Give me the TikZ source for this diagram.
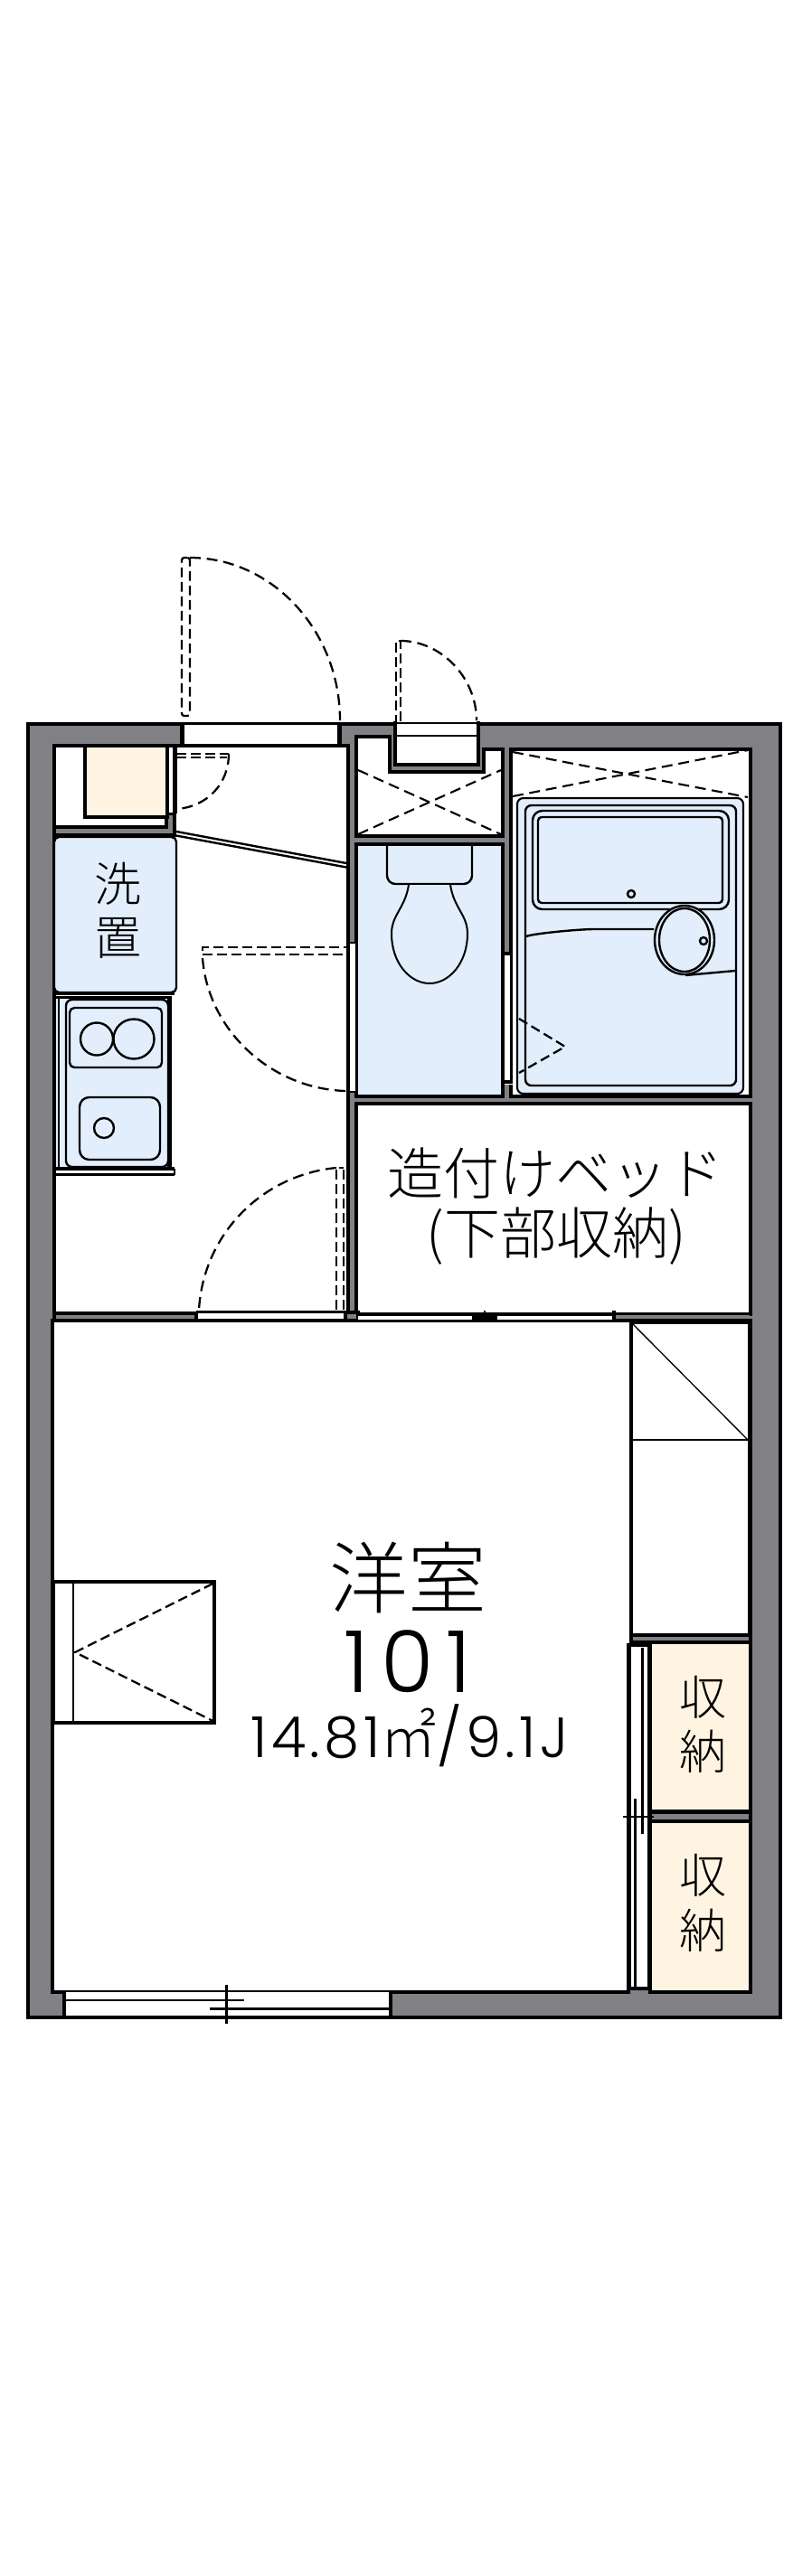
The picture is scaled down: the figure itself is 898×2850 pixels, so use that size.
\documentclass[tikz,border=0pt]{standalone}
\usepackage{fontspec}
\setmainfont{Poppins Light}
\newfontfamily\cjk{Noto Sans CJK JP Light}
\definecolor{wallgray}{HTML}{808085}
\definecolor{wetblue}{HTML}{E3EEFC}
\definecolor{storecream}{HTML}{FFF4E2}
\begin{document}
\begin{tikzpicture}[x=0.75pt,y=-0.75pt,line join=miter]
		\tikzset{wall/.style = {draw, line width=3pt, fill=wallgray},
			room/.style = {draw, line width=3pt, fill=white},
			wet/.style = {draw, line width=1.8pt, fill=wetblue},
			store/.style = {draw, line width=3pt, fill=storecream},
			gap/.style = {fill=white, draw=none},
			thin line/.style = {line width=1.8pt},
			thick line/.style = {line width=3.4pt},
			leaf/.style = {line width=1.7pt, dash pattern=on 9pt off 5pt},
			frame/.style = {line width=1.7pt, dash pattern=on 8pt off 4pt},
			label/.style = {inner sep=0pt, align=center, font=\cjk}}

		\useasboundingbox (0,0) rectangle (898,2850);
		\fill[white] (0,0) rectangle (898,2850);

		% walls and rooms
		\draw[wall] (30.5,800.5) rectangle (863,2232);
		\draw[room] (60,825) rectangle (385,1453);
		\draw[room] (57.5,1461) rectangle (829.5,2204);
		\draw[room] (394,1221) rectangle (829.5,1454);
		\draw[room] (565,829) rectangle (829.5,1213);
		\draw[room] (394,814.5) -- (431,814.5) -- (431,854) -- (534.5,854) -- (534.5,829) -- (556,829) -- (556,925) -- (394,925) -- cycle;
		\draw[wet, line width=3pt] (394,934) rectangle (556,1213);

		% closet by the entrance
		\draw[wall] (60,915) -- (184,915) -- (184,900) -- (193,900) -- (193,924) -- (60,924) -- cycle;
		\draw[store] (93.5,825) rectangle (184.5,903.5);
		\fill[white] (186.5,827) rectangle (191.5,899);
		\draw[thick line] (193.5,825) -- (193.5,900);

		% entrance door
		\fill[gap] (201.5,797) rectangle (375.5,823);
		\draw[thin line] (201.5,800.5) -- (375.5,800.5);
		\draw[line width=3.6pt] (201.5,799) -- (201.5,827);
		\draw[line width=3.6pt] (375.5,799) -- (375.5,827);
		\draw[frame, rounded corners=2pt] (210,617) -- (201,617) -- (201,792) -- (210,792) -- cycle;
		\draw[leaf] (210,617) .. controls (301,617) and (376,698) .. (376,797);

		% small door on the north side
		\draw[room] (437,798) -- (437,846) -- (528.5,846) -- (528.5,798);
		\draw[thin line] (437,800) -- (528.5,800);
		\draw[thin line] (437,814) -- (528.5,814);
		\draw[frame] (443,798) -- (443,709) -- (438,709) -- (438,798);
		\draw[leaf] (443,709) .. controls (488,709) and (527,750) .. (527,797);

		% dashed crosses
		\draw[leaf, line width=1.6pt] (396,852) -- (554,923);
		\draw[leaf, line width=1.6pt] (396,923) -- (554,852);
		\draw[leaf, line width=1.6pt] (567,832) -- (827,882);
		\draw[leaf, line width=1.6pt] (567,881) -- (827,830);

		% cupboard door and partition
		\draw[frame] (195,834) -- (253,834);
		\draw[frame] (195,838) -- (251,838);
		\draw[leaf] (253,834) .. controls (253,868) and (228,893) .. (195,895);
		\draw[thin line] (195,920) -- (383,955);
		\draw[thin line] (195,924.5) -- (383,959.5);

		% washer pan and kitchen
		\draw[wet, rounded corners=4pt] (60,926) -- (195,926) -- (195,1098) -- (60,1098) -- cycle;
		\fill[wetblue] (62,1105) rectangle (188,1292);
		\draw[thick line] (62,1099) -- (193,1099);
		\draw[thin line] (62,1103.5) -- (190,1103.5);
		\draw[thick line] (187.5,1104) -- (187.5,1294);
		\draw[thick line] (62,1293) -- (193,1293);
		\draw[thin line] (62,1299.5) -- (193,1299.5);
		\draw[thin line] (193,1293) -- (193,1300);
		\draw[thin line] (65,1105) -- (65,1292);
		\draw[wet, rounded corners=5pt] (73,1106) rectangle (186,1291);
		\draw[wet, rounded corners=4pt] (77,1115) rectangle (179,1181);
		\draw[wet] (107,1149.5) ellipse [x radius=18, y radius=18];
		\draw[wet] (148,1149.5) ellipse [x radius=22.5, y radius=22];
		\draw[wet, rounded corners=8pt] (88,1214) rectangle (177,1283);
		\draw[wet] (115,1248) circle [radius=11];

		% toilet
		\draw[wet, rounded corners=7pt] (428,936) -- (428,978) -- (522,978) -- (522,936);
		\draw[wet, line width=1.5pt] (452,979) .. controls (448,1005) and (433,1012) .. (433,1033) .. controls (433,1065) and (453,1088) .. (475,1088) .. controls (497,1088) and (517,1065) .. (517,1033) .. controls (517,1012) and (502,1005) .. (498,979);

		% bath unit
		\draw[wet, line width=1.6pt, rounded corners=5pt] (572,883) rectangle (822,1210);
		\draw[wet, rounded corners=5pt] (581,891) rectangle (814,1201);
		\draw[wet, rounded corners=8pt] (589,897) rectangle (806,1006);
		\draw[wet, rounded corners=3pt] (595,904) rectangle (799,999);
		\draw[wet] (698,989) circle [radius=4];
		\draw[thin line] (582,1036) .. controls (588,1033) and (640,1028) .. (657,1028) -- (723,1028);
		\draw[thin line] (758,1079) -- (813,1074);
		\draw[wet] (757,1040) ellipse [x radius=33, y radius=38];
		\draw[wet] (757,1040) ellipse [x radius=28, y radius=35];
		\draw[wet] (778,1041) circle [radius=4];
		\draw[frame] (574,1127) -- (625,1158) -- (574,1187);

		% sliding openings between the rooms
		\fill[gap] (386.5,1043) rectangle (392.5,1208);
		\draw[thin line] (385,1043) -- (394,1043);
		\draw[thin line] (385,1208) -- (394,1208);
		\fill[gap] (557.5,1055) rectangle (563.5,1197);
		\fill[gap] (558,1197) rectangle (570,1200);
		\draw[line width=3pt] (555,1055) -- (567,1055);
		\draw[line width=3pt] (555,1197) -- (567,1197);
		\draw[frame] (224,1052) -- (224,1048) -- (383,1048);
		\draw[frame, line width=1.2pt] (224,1056) -- (383,1056);
		\draw[leaf] (224,1060) .. controls (230,1140) and (300,1205) .. (383,1207);

		% door to the main room
		\draw[wall] (60,1453) rectangle (217,1461);
		\fill[gap] (218.5,1451) rectangle (381,1460);
		\draw[thin line] (217,1451.5) -- (381,1451.5);
		\draw[thin line] (217,1460.5) -- (381,1460.5);
		\draw[wall] (382,1452) rectangle (396,1461);
		\draw[frame, line width=1.2pt] (372,1449) -- (372,1292) -- (380,1292);
		\draw[frame] (380,1449) -- (380,1292);
		\draw[leaf] (372,1292) .. controls (290,1300) and (225,1365) .. (220,1449);

		% sliding door under the bed
		\fill[gap] (396,1455) rectangle (680,1460);
		\draw[thin line, line width=3.4pt] (396,1454) -- (680,1454);
		\draw[thin line] (396,1461) -- (680,1461);
		\draw[line width=4pt] (522,1458) -- (550,1458);
		\draw[thin line] (536,1450) -- (536,1463);
		\fill[wallgray] (680,1455) rectangle (829,1460);
		\draw[thick line] (679,1450) -- (679,1463);
		\draw[thick line] (679,1461) -- (829.5,1461);

		% storage at the right
		\draw[thin line, line width=2.4pt, fill=white] (698,1463) rectangle (829,1809);
		\draw[line width=1pt] (698,1463) -- (827,1593);
		\draw[thin line] (698,1593) -- (827,1593);
		\draw[wall] (698,1809) rectangle (829.5,1817);
		\draw[store] (718.5,1817) rectangle (829.5,2004);
		\draw[wall] (718.5,2005) rectangle (829.5,2015);
		\draw[store] (718.5,2015) rectangle (829.5,2204);
		\fill[gap] (697,1823) rectangle (717,2198);
		\draw[thick line] (693,1820) -- (720,1820);
		\draw[thick line] (693,2200) -- (720,2200);
		\draw[thick line] (695.5,1820) -- (695.5,2200);
		\draw[thick line] (718,1820) -- (718,2200);
		\draw[line width=2.4pt] (710.5,1823) -- (710.5,2029);
		\draw[line width=2.4pt] (702.5,1990) -- (702.5,2199);
		\draw[thin line] (689,2010) -- (723,2010);
		\fill[wallgray] (697,2202) rectangle (717,2229);

		% desk
		\draw[thick line, line width=2.4pt, fill=white] (59.6,1750) rectangle (237,1906);
		\draw[line width=2pt] (81,1750) -- (81,1906);
		\draw[frame] (235.5,1752) -- (83,1828) -- (235.5,1904);

		% window
		\fill[gap] (71,2204) rectangle (432,2231);
		\draw[thin line] (60,2203) -- (432,2203);
		\draw[thin line] (71,2231.5) -- (432,2231.5);
		\draw[thin line] (71,2213) -- (270,2213);
		\draw[thin line] (232,2222.5) -- (432,2222.5);
		\draw[thin line] (250.6,2196) -- (250.6,2239);
		\draw[thick line] (71,2202) -- (71,2234);
		\draw[thick line] (432,2202) -- (432,2234);
		\fill[wallgray] (434,2206) rectangle (694,2229);

		% labels
		\node[label, font=\cjk\fontsize{39}{39}\selectfont] (wash_top) at (130,978) {洗};
		\node[label, font=\cjk\fontsize{39}{39}\selectfont] (wash_bottom) at (130,1038) {置};
		\node[label, font=\cjk\fontsize{46.5}{46.5}\selectfont] (bed_top) at (614,1298) {造付けベッド};
		\node[label, font=\cjk\fontsize{46.5}{46.5}\selectfont] (bed_bottom) at (615,1368) {(下部収納)};
		\node[label, font=\cjk\fontsize{39}{39}\selectfont] (store_a_top) at (777,1878) {収};
		\node[label, font=\cjk\fontsize{39}{39}\selectfont] (store_a_bottom) at (777,1938) {納};
		\node[label, font=\cjk\fontsize{39}{39}\selectfont] (store_b_top) at (777,2075) {収};
		\node[label, font=\cjk\fontsize{39}{39}\selectfont] (store_b_bottom) at (777,2136) {納};
		\node[label, font=\cjk\fontsize{65}{65}\selectfont] (room_name) at (451,1745) {洋室};
		\node[inner sep=0pt, font=\addfontfeature{LetterSpace=14}\fontsize{71}{71}\selectfont] (room_number) at (451,1838) {101};
		\node[inner sep=0pt, font=\addfontfeature{LetterSpace=7}\fontsize{47}{47}\selectfont] (room_size) at (453,1920) {14.81{\cjk ㎡}/9.1J};
\end{tikzpicture}
\end{document}
